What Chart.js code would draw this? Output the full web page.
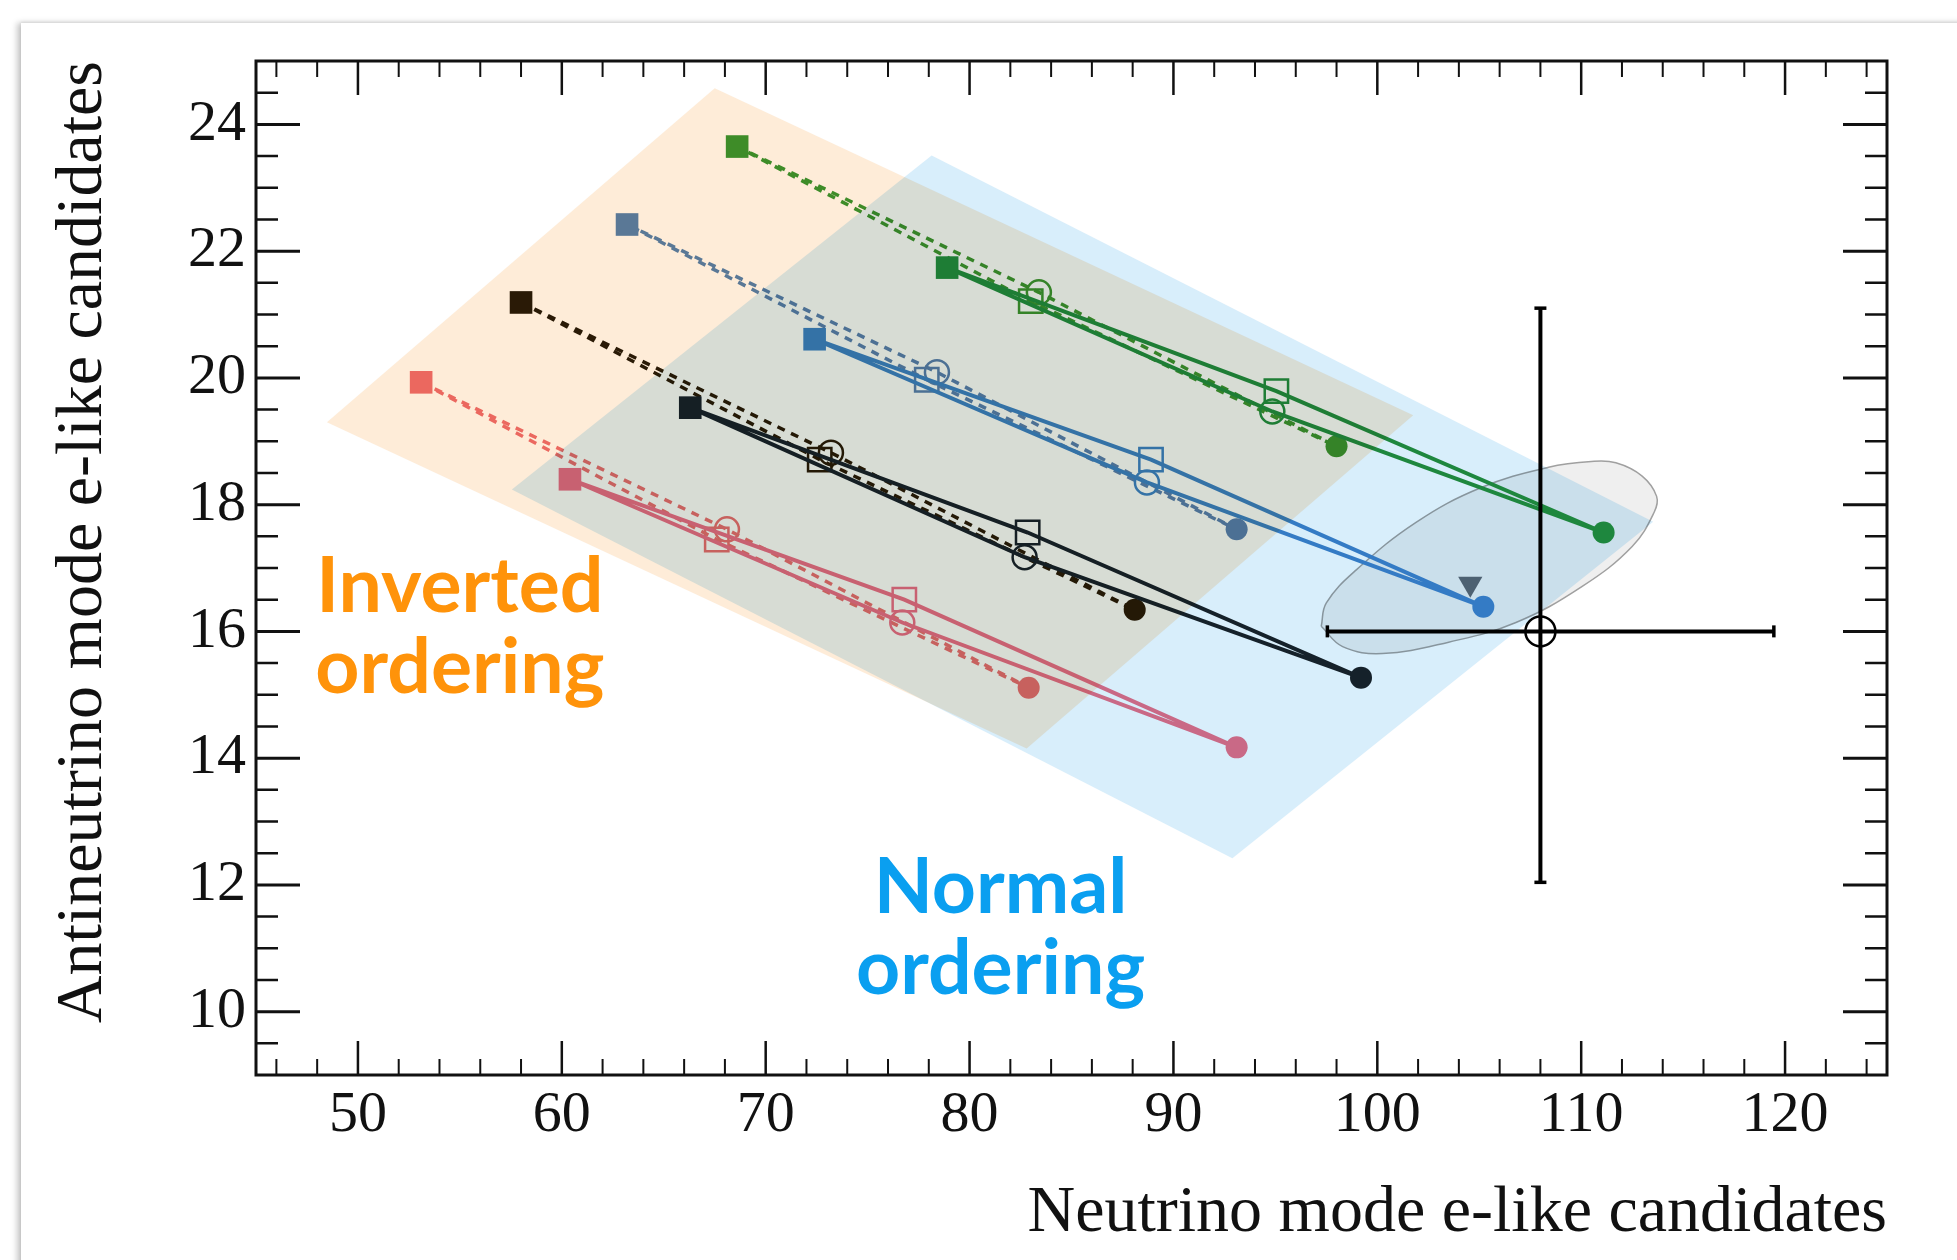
<!DOCTYPE html>
<html>
<head>
<meta charset="utf-8">
<script src="https://cdn.jsdelivr.net/npm/chart.js@4.4.0/dist/chart.umd.min.js"></script>
<style>
  html, body { margin: 0; padding: 0; background: #fff; overflow: hidden; }
  #card {
    position: absolute; left: 21px; top: 23px; width: 1980px; height: 1280px;
    background: #fff;
    box-shadow: -4px 0 6px rgba(0, 0, 0, 0.22), 0 -1px 3px rgba(0, 0, 0, 0.08);
  }
  #wrap { position: absolute; left: 0; top: 0; width: 1957px; height: 1260px; }
</style>
</head>
<body>
<div id="card"></div>
<div id="wrap"><canvas id="chart"></canvas></div>
<script>
// points of each thin dCP loop, in order: filled square, side marker, filled circle, other side marker
// normal ordering (solid): square, open square, circle, open circle
const greenNO = [[78.9, 21.74], [95.05, 19.79], [111.1, 17.56], [94.85, 19.47]];
const blueNO  = [[72.4, 20.61], [88.9, 18.71], [105.2, 16.39], [88.7, 18.35]];
const blackNO = [[66.3, 19.53], [82.85, 17.56], [99.2, 15.27], [82.7, 17.17]];
const redNO   = [[60.4, 18.40], [76.8, 16.50], [93.1, 14.17], [76.7, 16.14]];
// inverted ordering (dashed): square, open circle, circle, open square
const greenIO = [[68.6, 23.65], [83.4, 21.35], [98.0, 18.92], [83.0, 21.21]];
const blueIO  = [[63.2, 22.42], [78.4, 20.09], [93.1, 17.61], [77.9, 19.97]];
const blackIO = [[58.0, 21.19], [73.2, 18.82], [88.1, 16.34], [72.65, 18.71]];
const redIO   = [[53.1, 19.93], [68.1, 17.61], [82.9, 15.11], [67.6, 17.45]];

// data point with asymmetric error bars
const dataPoint = [108.0, 16.0];
const dataXRange = [97.55, 119.45];
const dataYRange = [12.04, 21.1];
const bestFit = [104.56, 16.75];

// confidence contour around the data
const contour = [
  [97.25, 16.08], [98.3, 15.76], [100.25, 15.65], [103.5, 15.83], [106.8, 16.14],
  [110.05, 16.71], [112.5, 17.34], [113.58, 17.88], [113.7, 18.13], [112.99, 18.45],
  [111.7, 18.66], [110.5, 18.68], [108.4, 18.59], [105.1, 18.27], [101.9, 17.72],
  [98.97, 16.97], [97.5, 16.45]
];

// shaded regions (corners)
const ioRegion = [[67.5, 24.57], [101.76, 19.41], [82.8, 14.15], [48.48, 19.30]];
const noRegion = [[78.14, 23.51], [113.53, 17.73], [92.89, 12.42], [57.55, 18.24]];

const xTickLabels = [50, 60, 70, 80, 90, 100, 110, 120];
const yTickLabels = [10, 12, 14, 16, 18, 20, 22, 24];

const serif = "'Liberation Serif', 'Times New Roman', serif";
const clear = "rgba(0,0,0,0)";

function xy(p) {
  return { x: p[0], y: p[1] };
}

function loopDataset(pts, color, dashed) {
  // NO loops: open square then open circle; IO loops the other way round
  const styles = dashed ? ["rect", "circle", "circle", "rect", false] : ["rect", "rect", "circle", "circle", false];
  const radius = styles.map((s, i) => {
    if (i === 4) return 0;
    if (s === "rect") return i === 0 ? 16 : 16.5;
    return i === 2 ? 11 : 12;
  });
  return {
    data: pts.concat([pts[0]]).map(xy),
    showLine: true,
    borderColor: color,
    borderWidth: dashed ? 3.5 : 4,
    borderDash: dashed ? [8, 7] : [],
    tension: 0,
    pointStyle: styles,
    pointRadius: radius,
    pointBackgroundColor: [color, clear, color, clear, color],
    pointBorderColor: color,
    pointBorderWidth: [0, 2.5, 0, 2.5, 0],
  };
}

const datasets = [
  {
    data: [xy(dataPoint)],
    pointStyle: "circle",
    pointRadius: 15,
    pointBackgroundColor: clear,
    pointBorderColor: "#000",
    pointBorderWidth: 2.5,
  },
  {
    data: [{ x: dataXRange[0], y: dataPoint[1] }, { x: dataXRange[1], y: dataPoint[1] }],
    showLine: true,
    borderColor: "#000",
    borderWidth: 4,
    pointStyle: "line",
    pointRotation: 90,
    pointRadius: 6,
    pointBorderColor: "#000",
    pointBorderWidth: 3.5,
  },
  {
    data: [{ x: dataPoint[0], y: dataYRange[0] }, { x: dataPoint[0], y: dataYRange[1] }],
    showLine: true,
    borderColor: "#000",
    borderWidth: 4,
    pointStyle: "line",
    pointRotation: 0,
    pointRadius: 6,
    pointBorderColor: "#000",
    pointBorderWidth: 3.5,
  },
  {
    data: [xy(bestFit)],
    pointStyle: "triangle",
    pointRotation: 180,
    pointRadius: 14,
    pointBackgroundColor: "#5b6874",
    pointBorderWidth: 0,
  },
  loopDataset(greenNO, "#23913f", false),
  loopDataset(blueNO, "#3d84c8", false),
  loopDataset(blackNO, "#18232a", false),
  loopDataset(redNO, "#ee7088", false),
  loopDataset(greenIO, "#3e972f", true),
  loopDataset(blueIO, "#5a82b1", true),
  loopDataset(blackIO, "#2a1c06", true),
  loopDataset(redIO, "#ec7070", true),
  {
    data: contour.concat([contour[0]]).map(xy),
    showLine: true,
    fill: "shape",
    backgroundColor: "#efefef",
    borderColor: "#a0a0a0",
    borderWidth: 1.5,
    tension: 0.4,
    pointRadius: 0,
  },
];

// white plot background so the multiply blend has something to work on
const plotBackground = {
  id: "plotBackground",
  beforeDraw(chart) {
    const { ctx, chartArea: a } = chart;
    ctx.save();
    ctx.fillStyle = "#fff";
    ctx.fillRect(a.left, a.top, a.width, a.height);
    ctx.restore();
  },
};

// orange / blue ordering regions, multiplied over everything, plus their labels
const orderingRegions = {
  id: "orderingRegions",
  afterDatasetsDraw(chart) {
    const { ctx, scales: { x, y } } = chart;
    ctx.save();
    ctx.globalCompositeOperation = "multiply";
    [[ioRegion, "#feecd8"], [noRegion, "#d8eefb"]].forEach(([pts, col]) => {
      ctx.beginPath();
      pts.forEach((p, i) => {
        const px = x.getPixelForValue(p[0]);
        const py = y.getPixelForValue(p[1]);
        if (i === 0) ctx.moveTo(px, py);
        else ctx.lineTo(px, py);
      });
      ctx.closePath();
      ctx.fillStyle = col;
      ctx.fill();
    });
    ctx.restore();

    ctx.save();
    ctx.font = "bold 77px Lato, 'Noto Sans', sans-serif";
    ctx.textAlign = "center";
    ctx.textBaseline = "alphabetic";
    ctx.fillStyle = "#ff930a";
    let cx = x.getPixelForValue(55.0);
    let by = y.getPixelForValue(16.31);
    ctx.fillText("Inverted", cx, by);
    ctx.fillText("ordering", cx, by + 81);
    ctx.fillStyle = "#0a9ff0";
    cx = x.getPixelForValue(81.52);
    by = y.getPixelForValue(11.56);
    ctx.fillText("Normal", cx, by);
    ctx.fillText("ordering", cx, by + 81);
    ctx.restore();
  },
};

// ROOT-style frame with inward ticks on all four sides
const frameTicks = {
  id: "frameTicks",
  afterDraw(chart) {
    const { ctx, chartArea: a, scales: { x, y } } = chart;
    ctx.save();
    ctx.strokeStyle = "#111";
    for (let v = 46; v <= 124; v += 2) {
      const major = v % 10 === 0;
      const px = x.getPixelForValue(v);
      const len = major ? 34 : 16;
      ctx.lineWidth = major ? 2.5 : 2;
      ctx.beginPath();
      ctx.moveTo(px, a.bottom); ctx.lineTo(px, a.bottom - len);
      ctx.moveTo(px, a.top); ctx.lineTo(px, a.top + len);
      ctx.stroke();
    }
    for (let v = 9.5; v <= 24.5; v += 0.5) {
      const major = v % 2 === 0;
      const py = y.getPixelForValue(v);
      const len = major ? 44 : 22;
      ctx.lineWidth = major ? 3 : 2.5;
      ctx.beginPath();
      ctx.moveTo(a.left, py); ctx.lineTo(a.left + len, py);
      ctx.moveTo(a.right, py); ctx.lineTo(a.right - len, py);
      ctx.stroke();
    }
    ctx.lineWidth = 3;
    ctx.strokeRect(a.left, a.top, a.right - a.left, a.bottom - a.top);
    ctx.restore();
  },
};

new Chart(document.getElementById("chart"), {
  type: "scatter",
  data: { datasets },
  options: {
    responsive: true,
    maintainAspectRatio: false,
    animation: false,
    events: [],
    layout: { padding: { left: 0, top: 61, right: 70, bottom: 0 } },
    plugins: {
      legend: { display: false },
      tooltip: { enabled: false },
    },
    scales: {
      x: {
        type: "linear",
        min: 45,
        max: 125,
        afterBuildTicks: (s) => { s.ticks = xTickLabels.map((v) => ({ value: v })); },
        afterFit: (s) => { s.height = 185; },
        grid: { display: false, drawTicks: false },
        border: { display: false },
        ticks: { color: "#111", font: { family: serif, size: 58 }, padding: 6, maxRotation: 0, minRotation: 0, autoSkip: false },
        title: {
          display: true,
          text: "Neutrino mode e-like candidates",
          align: "end",
          color: "#111",
          font: { family: serif, size: 66 },
          padding: { top: 0, bottom: 7 },
        },
      },
      y: {
        type: "linear",
        min: 9,
        max: 25,
        afterBuildTicks: (s) => { s.ticks = yTickLabels.map((v) => ({ value: v })); },
        afterFit: (s) => { s.width = 256; },
        grid: { display: false, drawTicks: false },
        border: { display: false },
        ticks: { color: "#111", font: { family: serif, size: 58 }, padding: 10, autoSkip: false },
        title: {
          display: true,
          text: "Antineutrino mode e-like candidates",
          align: "end",
          color: "#111",
          font: { family: serif, size: 66 },
          padding: { top: 44, bottom: 0 },
        },
      },
    },
  },
  plugins: [plotBackground, orderingRegions, frameTicks],
});
</script>
</body>
</html>
